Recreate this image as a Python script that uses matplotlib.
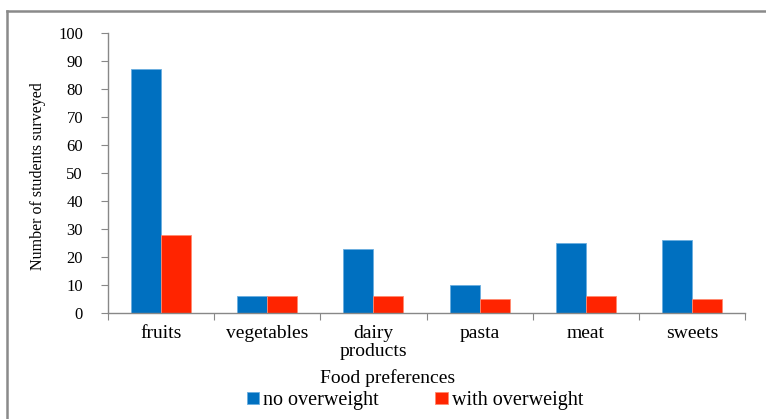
import matplotlib.pyplot as plt
import numpy as np
from matplotlib.lines import Line2D

# Food preference survey data
categories = ["fruits", "vegetables", "dairy\nproducts", "pasta", "meat", "sweets"]
no_overweight = [87, 6, 23, 10, 25, 26]
with_overweight = [28, 6, 6, 5, 6, 5]
y_ticks = [0, 10, 20, 30, 40, 50, 60, 70, 80, 90, 100]

plt.rcParams['font.family'] = 'serif'
plt.rcParams['font.serif'] = ['Liberation Serif', 'DejaVu Serif']

fig = plt.figure(figsize=(7.66, 4.19), dpi=100)
ax = fig.add_axes([0.141, 0.253, 0.8316, 0.668])

x = np.arange(len(categories))
w = 0.283
blue = '#0070C0'
red = '#FF2400'
ax.bar(x - w / 2, no_overweight, w, color=blue, edgecolor='#6aaee0', linewidth=0.6, label='no overweight')
ax.bar(x + w / 2, with_overweight, w, color=red, edgecolor='#ff8a70', linewidth=0.6, label='with overweight')

ax.set_xlim(-0.5, len(categories) - 0.5)
ax.set_ylim(0, 100)
ax.set_yticks(y_ticks)
ax.tick_params(axis='y', labelsize=12, length=5, color='#888888', pad=13)

# category labels between boundary ticks
ax.set_xticks(np.arange(len(categories) + 1) - 0.5)
ax.set_xticklabels([])
ax.set_xticks(x, minor=True)
ax.set_xticklabels(categories, minor=True, fontsize=14, linespacing=1.05)
ax.tick_params(axis='x', which='major', length=5, color='#888888')
ax.tick_params(axis='x', which='minor', length=0, pad=9)

for side in ['top', 'right']:
    ax.spines[side].set_visible(False)
for side in ['left', 'bottom']:
    ax.spines[side].set_color('#888888')
    ax.spines[side].set_linewidth(1.0)

ax.set_ylabel('Number of students surveyed', fontsize=11.5)
ax.yaxis.set_label_coords(-0.097, 0.49)
fig.text(0.506, 0.098, 'Food preferences', ha='center', va='center', fontsize=14)

fig.legend(loc='center', bbox_to_anchor=(0.542, 0.044), ncol=2, frameon=False,
           fontsize=14.5, handlelength=0.6, handleheight=0.6, handletextpad=0.2,
           columnspacing=2.8)

# outer frame
fig.add_artist(Line2D([0.0095, 0.0095], [0.0, 0.974], color='#8a8a8a', linewidth=1.8,
                      transform=fig.transFigure))
fig.add_artist(Line2D([0.0095, 1.0], [0.974, 0.974], color='#8a8a8a', linewidth=1.8,
                      transform=fig.transFigure))

fig.savefig('out.png', dpi=100)
